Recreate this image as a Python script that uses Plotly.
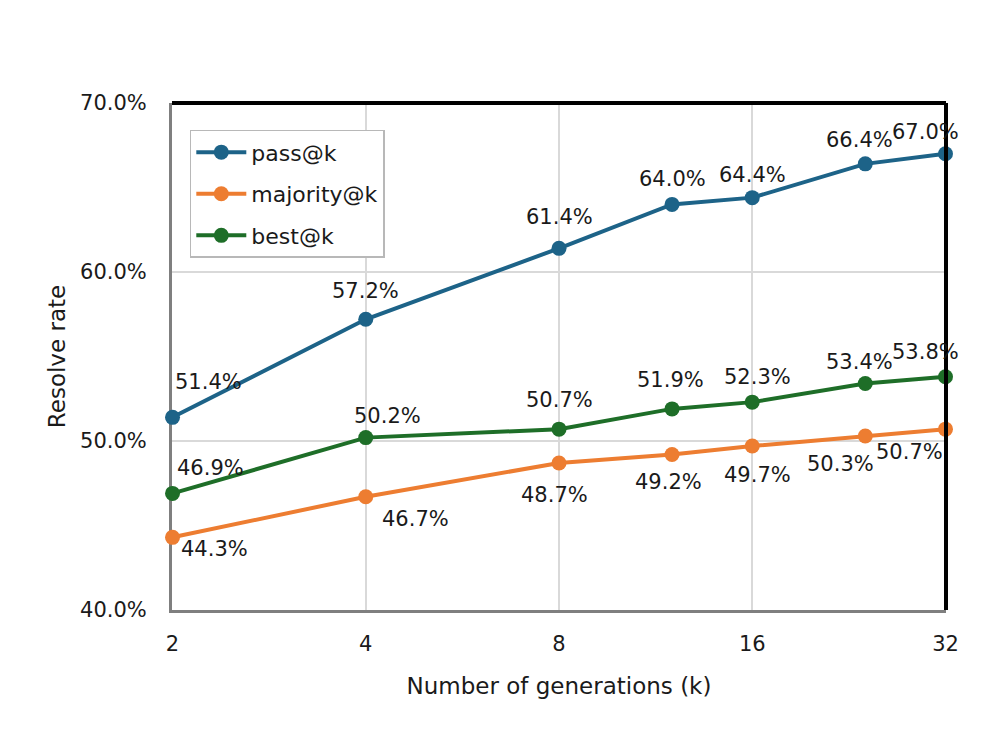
import math
import plotly.graph_objects as go

k_values = [2, 4, 8, 12, 16, 24, 32]
pass_at_k = [51.4, 57.2, 61.4, 64.0, 64.4, 66.4, 67.0]
majority_at_k = [44.3, 46.7, 48.7, 49.2, 49.7, 50.3, 50.7]
best_at_k = [46.9, 50.2, 50.7, 51.9, 52.3, 53.4, 53.8]
series_names = ["pass@k", "majority@k", "best@k"]
x_ticks = [2, 4, 8, 16, 32]
y_ticks = [40, 50, 60, 70]

colors = ["#1D6388", "#ED7D31", "#1E6E28"]
# label offsets in pixels (dx, dy-up) per point: styling only
label_shift = [
    [(36, 35), (0, 28), (0, 31), (0, 25), (0, 23), (-6, 24), (-20, 22)],
    [(42, -12), (50, -22), (-5, -32), (-4, -27), (5, -29), (-25, -28), (-36, -23)],
    [(38, 25), (22, 22), (0, 29), (-2, 29), (5, 25), (-6, 22), (-20, 25)],
]

FONT = "DejaVu Sans"
fig = go.Figure()
annotations = []
for name, vals, col, shifts in zip(series_names, [pass_at_k, majority_at_k, best_at_k], colors, label_shift):
    fig.add_trace(go.Scatter(
        x=k_values, y=vals, name=name, legendgroup=name, mode="lines+markers",
        line=dict(color=col, width=4),
        marker=dict(color=col, size=15),
        cliponaxis=False,
    ))
    for xv, yv, (dx, dy) in zip(k_values, vals, shifts):
        annotations.append(dict(
            x=math.log10(xv), y=yv, xref="x", yref="y",
            text=f"{yv:.1f}%", showarrow=False, xshift=dx, yshift=dy,
            borderpad=0,
            font=dict(family=FONT, size=21, color="#1a1a1a"),
        ))

shapes = [
    dict(type="line", xref="x domain", yref="y domain", x0=0, x1=1, y0=1, y1=1,
         line=dict(color="black", width=4)),
    dict(type="line", xref="x domain", yref="y domain", x0=1, x1=1, y0=0, y1=1,
         line=dict(color="black", width=4)),
]

fig.update_layout(
    width=997, height=737,
    margin=dict(l=164, r=59, t=95, b=135),
    paper_bgcolor="white", plot_bgcolor="white",
    font=dict(family=FONT, size=21, color="#1a1a1a"),
    showlegend=True,
    legend=dict(x=0.023, y=0.947, xanchor="left", yanchor="top",
                bgcolor="white", bordercolor="#b8b8b8", borderwidth=1.5,
                font=dict(family=FONT, size=22, color="#1a1a1a"),
                itemwidth=50, tracegroupgap=10),
    annotations=annotations,
    shapes=shapes,
)
eps = 0.0008
fig.update_xaxes(
    type="log", range=[math.log10(2) - eps, math.log10(32) + eps],
    tickvals=x_ticks, ticktext=[str(t) for t in x_ticks],
    showgrid=True, gridcolor="#d9d9d9", gridwidth=1.5,
    showline=True, linecolor="#7f7f7f", linewidth=3, layer="below traces",
    ticks="", ticklabelstandoff=13,
    tickfont=dict(family=FONT, size=21, color="#1a1a1a"),
    title=dict(text="Number of generations (k)", font=dict(family=FONT, size=23, color="#1a1a1a"), standoff=23),
    zeroline=False,
)
fig.update_yaxes(
    range=[40, 70], tickvals=y_ticks, ticktext=[f"{t:.1f}%" for t in y_ticks],
    showgrid=True, gridcolor="#d9d9d9", gridwidth=1.5,
    showline=True, linecolor="#7f7f7f", linewidth=3, layer="below traces",
    ticks="", ticklabelstandoff=18,
    tickfont=dict(family=FONT, size=21, color="#1a1a1a"),
    title=dict(text="Resolve rate", font=dict(family=FONT, size=23, color="#1a1a1a"), standoff=9),
    zeroline=False,
)
fig.write_html("out.html")
